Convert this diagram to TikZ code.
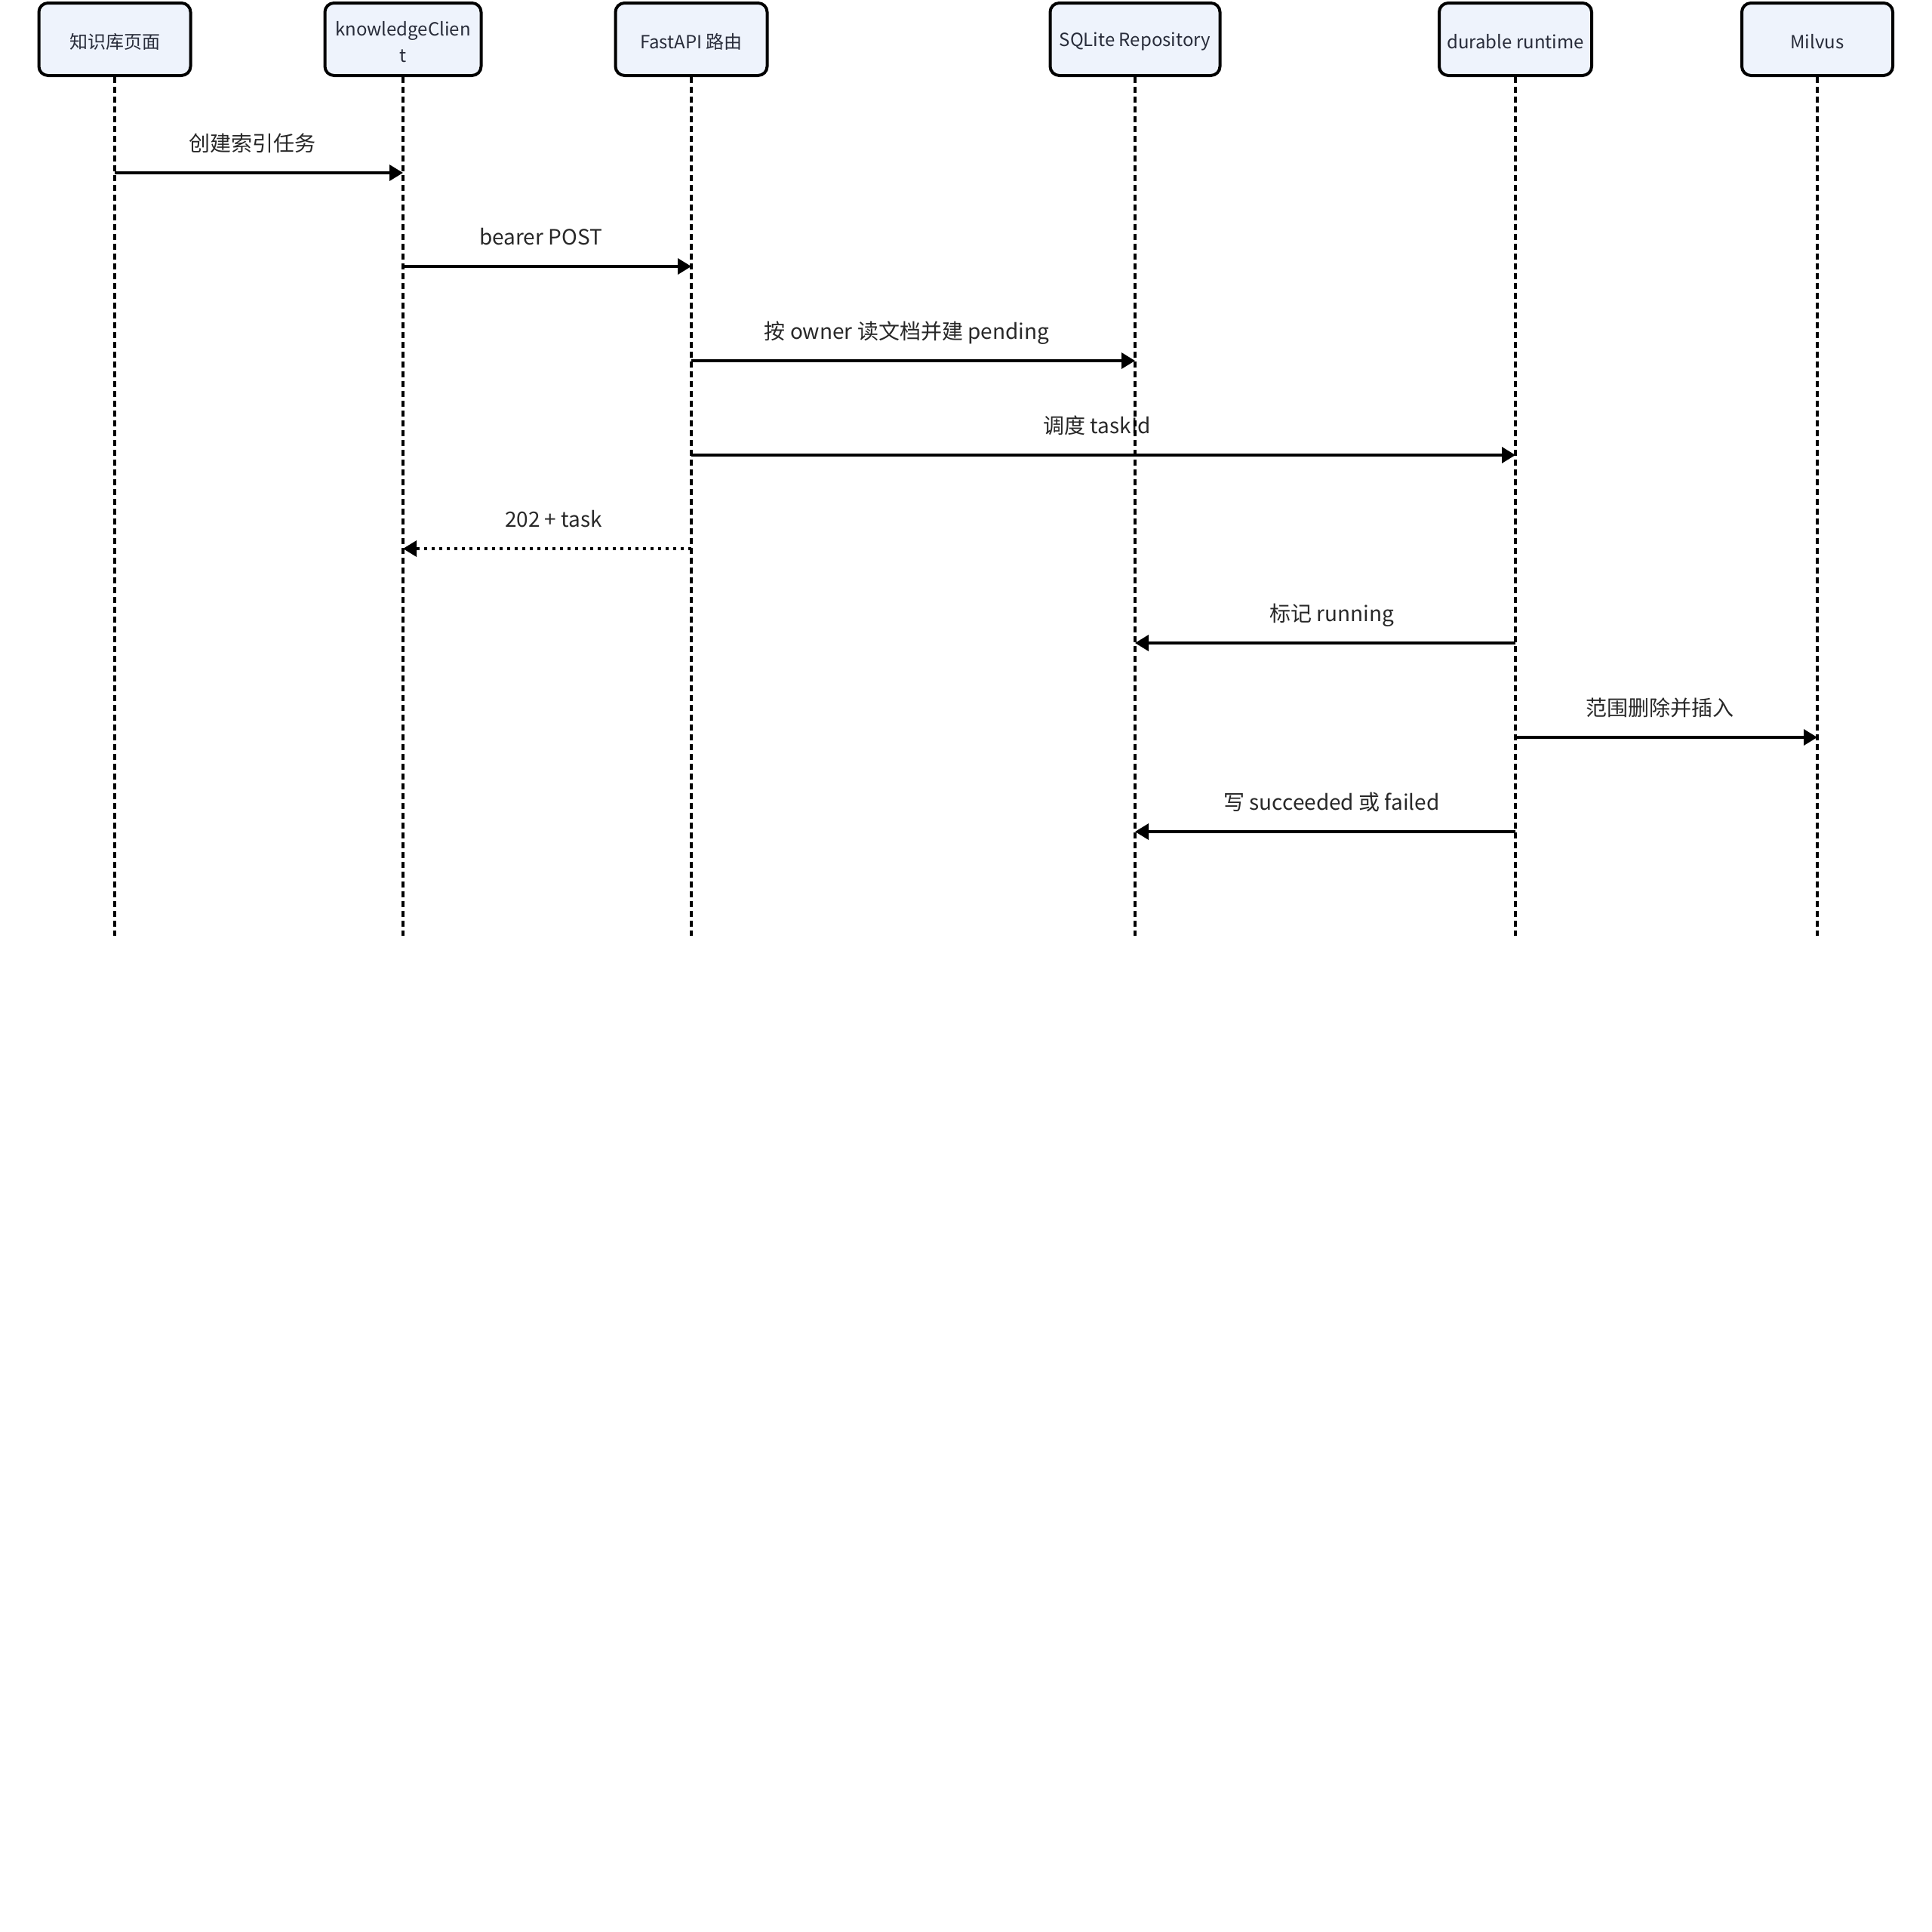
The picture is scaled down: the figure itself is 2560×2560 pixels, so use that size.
\documentclass[tikz,border=0pt]{standalone}
\usepackage{fontspec}
\setmainfont{Noto Sans CJK SC}
\usetikzlibrary{arrows.meta}
\definecolor{boxfill}{RGB}{238,243,252}
\definecolor{boxtext}{RGB}{40,44,58}
\definecolor{lbltext}{RGB}{40,40,40}
\begin{document}
\begin{tikzpicture}[x=1pt,y=-1pt,
  actor/.style={draw=black, line width=4pt, rounded corners=12pt, fill=boxfill,
    minimum height=96pt, inner sep=0pt},
  actortext/.style={text=boxtext, font=\fontsize{24}{35}\selectfont,
    align=center, inner sep=0pt, yshift=-3.5pt},
  lifeline/.style={line width=3.2pt, dash pattern=on 8pt off 5pt},
  msg/.style={line width=3.5pt, -{Triangle[length=18pt,width=21pt]}},
  reply/.style={msg, dash pattern=on 4pt off 6pt},
  lbl/.style={font=\fontsize{28}{32}\selectfont, text=lbltext, anchor=base, inner sep=0pt, yshift=29pt},
  lblr/.style={lbl, xshift=-8.5pt},
  lbll/.style={lbl, xshift=8.5pt}
]
\useasboundingbox (0,0) rectangle (2560,2560);

% actors
\node[actor, minimum width=201pt] (a1) at (152,52) {};
\node[actor, minimum width=207pt] (a2) at (534,52) {};
\node[actor, minimum width=201pt] (a3) at (916,52) {};
\node[actor, minimum width=225pt] (a4) at (1504,52) {};
\node[actor, minimum width=202pt] (a5) at (2008,52) {};
\node[actor, minimum width=200pt] (a6) at (2408,52) {};
\node[actortext] (t1) at (a1.center) {知识库页面};
\node[actortext] (t2) at (a2.center) {knowledgeClien\\t};
\node[actortext] (t3) at (a3.center) {FastAPI 路由};
\node[actortext] (t4) at (a4.center) {SQLite Repository};
\node[actortext] (t5) at (a5.center) {durable runtime};
\node[actortext] (t6) at (a6.center) {Milvus};

% lifeline ends
\coordinate (e1) at (152,1240);
\coordinate (e2) at (534,1240);
\coordinate (e3) at (916,1240);
\coordinate (e4) at (1504,1240);
\coordinate (e5) at (2008,1240);
\coordinate (e6) at (2408,1240);

% message end points
\coordinate (m1s) at (a1 |- 0,229);   \coordinate (m1e) at (a2 |- 0,229);
\coordinate (m2s) at (a2 |- 0,353);   \coordinate (m2e) at (a3 |- 0,353);
\coordinate (m3s) at (a3 |- 0,478);   \coordinate (m3e) at (a4 |- 0,478);
\coordinate (m4s) at (a3 |- 0,603);   \coordinate (m4e) at (a5 |- 0,603);
\coordinate (m5s) at (a3 |- 0,727);   \coordinate (m5e) at (a2 |- 0,727);
\coordinate (m6s) at (a5 |- 0,852);   \coordinate (m6e) at (a4 |- 0,852);
\coordinate (m7s) at (a5 |- 0,977);   \coordinate (m7e) at (a6 |- 0,977);
\coordinate (m8s) at (a5 |- 0,1102);  \coordinate (m8e) at (a4 |- 0,1102);

% labels
\path (m1s) -- node[lblr] (l1) {创建索引任务} (m1e);
\path (m2s) -- node[lblr] (l2) {bearer POST} (m2e);
\path (m3s) -- node[lblr] (l3) {按 owner 读文档并建 pending} (m3e);
\path (m4s) -- node[lblr] (l4) {调度 taskId} (m4e);
\path (m5s) -- node[lbll] (l5) {202 + task} (m5e);
\path (m6s) -- node[lbll] (l6) {标记 running} (m6e);
\path (m7s) -- node[lblr] (l7) {范围删除并插入} (m7e);
\path (m8s) -- node[lbll] (l8) {写 succeeded 或 failed} (m8e);

% lifelines
\foreach \i in {1,...,6} {
  \draw[lifeline] (a\i.south) -- (e\i);
}

% messages
\draw[msg] (m1s) -- (m1e);
\draw[msg] (m2s) -- (m2e);
\draw[msg] (m3s) -- (m3e);
\draw[msg] (m4s) -- (m4e);
\draw[reply] (m5s) -- (m5e);
\draw[msg] (m6s) -- (m6e);
\draw[msg] (m7s) -- (m7e);
\draw[msg] (m8s) -- (m8e);
\end{tikzpicture}
\end{document}
